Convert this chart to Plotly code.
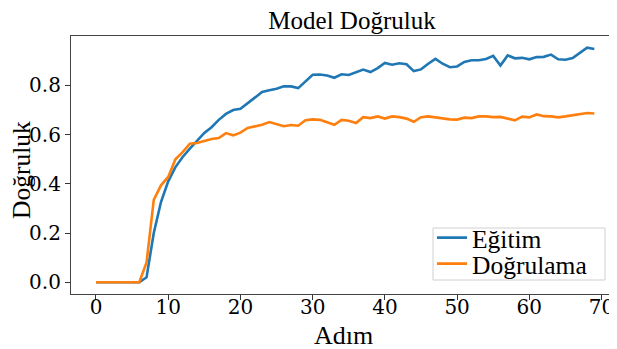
import plotly.graph_objects as go

steps = list(range(70))
egitim = [0, 0, 0, 0, 0, 0, 0, 0.02, 0.20, 0.326,
          0.41, 0.468, 0.509, 0.543, 0.577, 0.607, 0.63, 0.66, 0.684, 0.70,
          0.705, 0.728, 0.753, 0.773, 0.78, 0.786, 0.796, 0.796, 0.789, 0.816,
          0.843, 0.844, 0.84, 0.831, 0.845, 0.842, 0.854, 0.864, 0.854, 0.87,
          0.891, 0.884, 0.89, 0.886, 0.858, 0.865, 0.888, 0.908, 0.888, 0.874,
          0.877, 0.895, 0.902, 0.902, 0.907, 0.92, 0.881, 0.922, 0.91, 0.912,
          0.906, 0.915, 0.916, 0.925, 0.906, 0.904, 0.911, 0.931, 0.953, 0.948]
dogrulama = [0, 0, 0, 0, 0, 0, 0, 0.08, 0.335, 0.394,
             0.428, 0.50, 0.529, 0.563, 0.566, 0.574, 0.582, 0.586, 0.606, 0.597,
             0.608, 0.627, 0.634, 0.64, 0.651, 0.642, 0.634, 0.639, 0.636, 0.658,
             0.662, 0.66, 0.65, 0.64, 0.66, 0.656, 0.647, 0.671, 0.667, 0.674,
             0.665, 0.674, 0.671, 0.665, 0.652, 0.671, 0.674, 0.669, 0.665, 0.662,
             0.661, 0.669, 0.667, 0.674, 0.674, 0.671, 0.672, 0.666, 0.658, 0.673,
             0.67, 0.682, 0.675, 0.674, 0.67, 0.674, 0.678, 0.684, 0.688, 0.686]
x_ticks = [0, 10, 20, 30, 40, 50, 60, 70]
y_ticks = [0.0, 0.2, 0.4, 0.6, 0.8]

FONT = "Liberation Serif"
DIGITS = "DejaVu Serif"
W, H = 609, 341          # page body adds an 8px offset
L, R, T, B = 63, 1, 28, 55
PW, PH = W - L - R, H - T - B


def px_x(p):
    return (p - L) / PW


def px_y(p):
    return (PH + T - p) / PH


fig = go.Figure()
fig.add_trace(go.Scatter(x=steps, y=egitim, mode="lines", name="Eğitim",
                         line=dict(color="#1f77b4", width=2.6), legend="legend"))
fig.add_trace(go.Scatter(x=steps, y=dogrulama, mode="lines", name="Doğrulama",
                         line=dict(color="#ff7f0e", width=2.6), legend="legend2"))

leg_common = dict(xanchor="left", yanchor="middle", bgcolor="rgba(0,0,0,0)",
                  borderwidth=0, itemwidth=30,
                  font=dict(family=FONT, size=25.5, color="black"))

fig.update_layout(
    width=W, height=H,
    margin=dict(l=L, r=R, t=T, b=B, autoexpand=False),
    paper_bgcolor="white", plot_bgcolor="white",
    font=dict(family=FONT, size=24, color="black"),
    title=dict(text="Model Doğruluk", x=344 / W, xref="container", xanchor="center",
               y=1 - 12.5 / H, yref="container", yanchor="middle", automargin=False,
               font=dict(family=FONT, size=25, color="black")),
    legend=dict(x=px_x(424), y=px_y(230), **leg_common),
    legend2=dict(x=px_x(424), y=px_y(256), **leg_common),
    showlegend=True,
    shapes=[dict(type="rect", xref="paper", yref="paper", layer="above",
                 x0=px_x(425), x1=px_x(597), y0=px_y(272), y1=px_y(220),
                 line=dict(color="#d0d0d0", width=1),
                 fillcolor="rgba(255,255,255,0.8)")],
    annotations=[
        dict(text="Adım", x=0.5, y=px_y(327), xref="paper", yref="paper",
             xanchor="center", yanchor="middle", showarrow=False,
             font=dict(family=FONT, size=26, color="black")),
        dict(text="Doğruluk", x=px_x(13), y=px_y(162),
             xref="paper", yref="paper", textangle=-90,
             xanchor="center", yanchor="middle", showarrow=False,
             font=dict(family=FONT, size=25.5, color="black")),
    ],
)
fig.update_xaxes(
    range=[-3.46, 72.0], tickmode="array", tickvals=x_ticks,
    ticktext=[str(v) for v in x_ticks], automargin=False,
    ticks="outside", ticklen=5, tickwidth=1, tickcolor="#333",
    ticklabelstandoff=-10,
    showline=True, linecolor="#444", linewidth=1.2, mirror=True,
    showgrid=False, zeroline=False,
    tickfont=dict(family=DIGITS, size=20, color="black"),
)
fig.update_yaxes(
    range=[-0.0477, 1.0007], tickmode="array", tickvals=y_ticks,
    ticktext=[f"{v:.1f}" for v in y_ticks], automargin=False,
    ticks="outside", ticklen=5, tickwidth=1, tickcolor="#333",
    showline=True, linecolor="#444", linewidth=1.2, mirror=True,
    showgrid=False, zeroline=False,
    tickfont=dict(family=DIGITS, size=20, color="black"),
)

fig.write_html("out.html")
